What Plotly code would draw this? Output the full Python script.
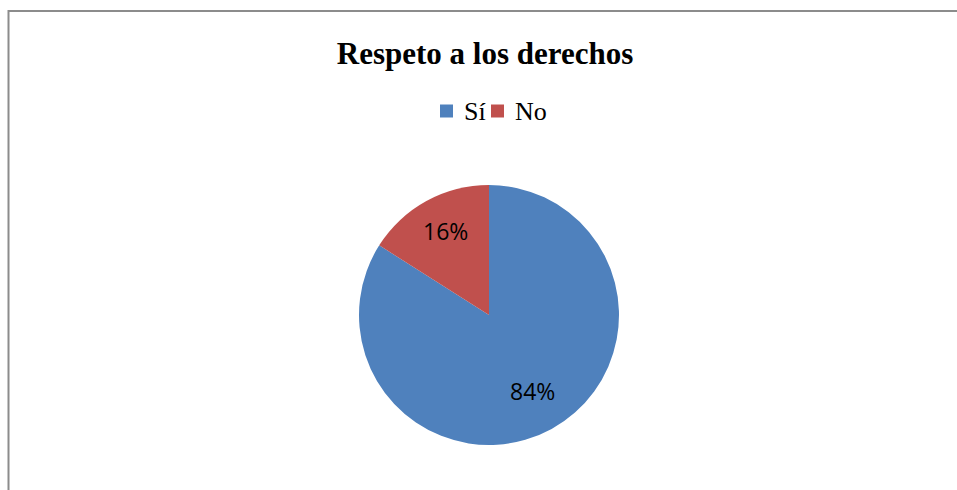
import math
import plotly.graph_objects as go

labels = ["Sí", "No"]
values = [84, 16]
colors = ["#4F81BD", "#C0504D"]
title = "Respeto a los derechos"

W, H = 957, 490
CX, CY, R = 489, 315, 130  # pie centre / radius in pixels
LABEL_R = 0.70             # label distance as fraction of radius

fig = go.Figure(go.Pie(
    labels=labels, values=values, sort=False, direction="clockwise", rotation=0,
    marker=dict(colors=colors, line=dict(color="white", width=0)),
    textinfo="none",
    domain=dict(x=[(CX - R) / W, (CX + R) / W], y=[(H - CY - R) / H, (H - CY + R) / H]),
    hoverinfo="label+percent",
))

# data labels at slice mid-angles (Excel "best fit" style)
total = sum(values)
annotations = []
shapes = []
start = 0.0
for v in values:
    frac = v / total
    mid = (start + frac / 2) * 2 * math.pi
    start += frac
    x = (CX + LABEL_R * R * math.sin(mid)) / W
    y = (H - CY + LABEL_R * R * math.cos(mid)) / H
    annotations.append(dict(x=x, y=y, xref="paper", yref="paper", showarrow=False, yshift=4,
                            text=f"{round(frac * 100)}%", xanchor="center", yanchor="middle",
                            font=dict(family="Open Sans", size=23, color="black")))

# compact legend (Excel style): square + label, fixed pitch
LEG_X0, LEG_Y, SQ, PITCH, TXT_GAP = 440, 111, 13, 51, 22
for i, (lab, col) in enumerate(zip(labels, colors)):
    x0 = LEG_X0 + i * PITCH
    shapes.append(dict(type="rect", xref="paper", yref="paper",
                       x0=x0 / W, x1=(x0 + SQ) / W,
                       y0=1 - (LEG_Y + SQ / 2) / H, y1=1 - (LEG_Y - SQ / 2) / H,
                       fillcolor=col, line=dict(width=0)))
    annotations.append(dict(x=(x0 + TXT_GAP) / W, y=1 - LEG_Y / H, xref="paper", yref="paper",
                            showarrow=False, text=lab, xanchor="left", yanchor="middle",
                            font=dict(family="Liberation Serif", size=26, color="black")))

# chart border
shapes.append(dict(type="rect", xref="paper", yref="paper", x0=8.5 / W, x1=1.2, y0=-0.2, y1=1 - 11 / H,
                   line=dict(color="#8c8c8c", width=2), fillcolor="rgba(0,0,0,0)"))

fig.update_layout(
    width=W, height=H, margin=dict(l=0, r=0, t=0, b=0),
    paper_bgcolor="white", plot_bgcolor="white",
    title=dict(text="<b>" + title + "</b>", x=485 / W, xanchor="center", y=1 - 53 / H, yanchor="middle",
               font=dict(family="Liberation Serif", size=31, color="black")),
    showlegend=False,
    annotations=annotations,
    shapes=shapes,
)
fig.write_html("out.html")
